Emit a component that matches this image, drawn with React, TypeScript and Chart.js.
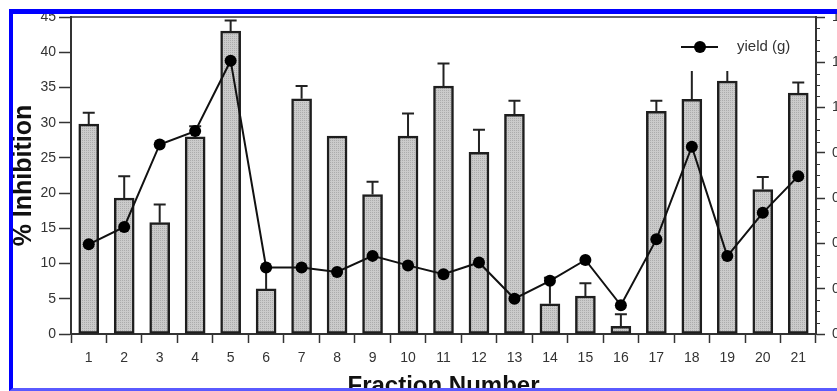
import { useEffect, useRef } from 'react';
import { Chart, registerables } from 'chart.js';

Chart.register(...registerables);

const fractions = ['1', '2', '3', '4', '5', '6', '7', '8', '9', '10', '11', '12', '13', '14', '15', '16', '17', '18', '19', '20', '21'];
const inhibition = [29.8, 19.3, 15.8, 28.0, 43.0, 6.4, 33.4, 28.1, 19.8, 28.1, 35.2, 25.8, 31.2, 4.3, 5.4, 1.1, 31.6, 33.3, 35.9, 20.5, 34.2];
const inhibitionError = [1.6, 3.1, 2.6, 1.5, 1.5, 3.0, 1.8, 0, 1.8, 3.2, 3.2, 3.2, 1.9, 3.7, 1.8, 1.7, 1.5, 4.4, 1.8, 1.8, 1.5];
const yieldGrams = [0.396, 0.473, 0.837, 0.896, 1.207, 0.294, 0.294, 0.274, 0.345, 0.303, 0.264, 0.316, 0.156, 0.235, 0.327, 0.127, 0.418, 0.827, 0.344, 0.535, 0.697];

const FONT = "'Liberation Sans', Arial, Helvetica, sans-serif";
const TEXT = '#333';
const AXIS = '#333';

const errorBars = {
  id: 'errorBars',
  afterDatasetDraw(chart: any, args: any) {
    if (args.index !== 0) return;
    const { ctx } = chart;
    const y = chart.scales.y;
    ctx.save();
    ctx.strokeStyle = '#222';
    ctx.lineWidth = 2;
    args.meta.data.forEach((bar: any, i: number) => {
      const e = inhibitionError[i];
      if (!e) return;
      const top = y.getPixelForValue(inhibition[i] + e);
      ctx.beginPath();
      ctx.moveTo(bar.x, bar.y);
      ctx.lineTo(bar.x, top);
      ctx.moveTo(bar.x - 6, top);
      ctx.lineTo(bar.x + 6, top);
      ctx.stroke();
    });
    ctx.restore();
  },
};

const boxLegend = {
  id: 'boxLegend',
  afterDatasetsDraw(chart: any) {
    const { ctx, chartArea: a } = chart;
    const ds = chart.data.datasets[1];
    ctx.save();
    ctx.fillStyle = '#fff';
    ctx.fillRect(a.right - 146, a.top + 1, 136, 53);
    const ly = a.top + 30;
    ctx.strokeStyle = '#111';
    ctx.lineWidth = 2;
    ctx.beginPath();
    ctx.moveTo(a.right - 135, ly);
    ctx.lineTo(a.right - 98, ly);
    ctx.stroke();
    ctx.fillStyle = '#000';
    ctx.beginPath();
    ctx.arc(a.right - 116, ly, 6, 0, Math.PI * 2);
    ctx.fill();
    ctx.fillStyle = TEXT;
    ctx.font = `15px ${FONT}`;
    ctx.textBaseline = 'middle';
    ctx.textAlign = 'left';
    ctx.fillText(ds.label, a.right - 79, ly);
    ctx.restore();
  },
};

const frameAndMinor = {
  id: 'frameAndMinor',
  afterDraw(chart: any) {
    const { ctx, chartArea: a } = chart;
    const y1 = chart.scales.y1;
    ctx.save();
    ctx.strokeStyle = AXIS;
    ctx.lineWidth = 1.5;
    ctx.beginPath();
    ctx.moveTo(a.left, a.top);
    ctx.lineTo(a.right, a.top);
    ctx.stroke();
    ctx.lineWidth = 1;
    const step = 0.05;
    const n = Math.round((y1.max - y1.min) / step);
    ctx.beginPath();
    for (let k = 1; k < n; k++) {
      if (k % 4 === 0) continue;
      const py = Math.round(y1.getPixelForValue(y1.min + k * step)) + 0.5;
      ctx.moveTo(a.right, py);
      ctx.lineTo(a.right + 4, py);
    }
    ctx.stroke();
    ctx.restore();
  },
};

export default function App() {
  const ref = useRef<HTMLCanvasElement>(null);

  useEffect(() => {
    if (!ref.current) return;
    const pc = document.createElement('canvas');
    pc.width = 2;
    pc.height = 2;
    const pctx = pc.getContext('2d')!;
    pctx.fillStyle = '#cbcbcb';
    pctx.fillRect(0, 0, 2, 2);
    pctx.fillStyle = '#acacac';
    pctx.fillRect(0, 0, 1, 1);
    const pattern = pctx.createPattern(pc, 'repeat');

    const chart = new Chart(ref.current, {
      type: 'bar',
      data: {
        labels: fractions,
        datasets: [
          {
            type: 'bar',
            label: '% Inhibition',
            data: inhibition,
            yAxisID: 'y',
            backgroundColor: pattern as any,
            borderColor: '#1e1e1e',
            borderWidth: 2.5,
            borderSkipped: false,
            barThickness: 20,
            order: 1,
          },
          {
            type: 'line',
            label: 'yield (g)',
            data: yieldGrams,
            yAxisID: 'y1',
            borderColor: '#111',
            borderWidth: 2,
            pointRadius: 6,
            pointBackgroundColor: '#000',
            pointBorderWidth: 0,
            tension: 0,
            order: 0,
          } as any,
        ],
      },
      options: {
        responsive: false,
        animation: false,
        devicePixelRatio: 1,
        layout: { padding: { top: 17, left: 0, right: 0, bottom: 0 } },
        plugins: { legend: { display: false }, tooltip: { enabled: false } },
        scales: {
          x: {
            type: 'category',
            offset: true,
            grid: { drawOnChartArea: false, offset: true, tickLength: 9, color: AXIS, tickWidth: 1.5 },
            border: { color: AXIS, width: 2 },
            ticks: { color: TEXT, padding: 7, font: { family: FONT, size: 14 }, maxRotation: 0, autoSkip: false },
            title: { display: true, text: 'Fraction Number', color: '#111', font: { family: FONT, size: 24, weight: 'bold' }, padding: { top: 4, bottom: 19 } },
            afterFit(scale: any) { scale.height = 86; },
          },
          y: {
            position: 'left',
            min: 0,
            max: 45,
            ticks: { stepSize: 5, color: TEXT, padding: 3, font: { family: FONT, size: 14 } },
            grid: { drawOnChartArea: false, tickLength: 12, color: AXIS, tickWidth: 1.5 },
            border: { color: AXIS, width: 2 },
            title: { display: true, text: '% Inhibition', color: '#111', font: { family: FONT, size: 25, weight: 'bold' }, padding: { top: 9, bottom: 0 } },
            afterFit(scale: any) { scale.width = 71; },
          },
          y1: {
            position: 'right',
            min: 0,
            max: 1.4,
            ticks: { stepSize: 0.2, color: TEXT, padding: 7, font: { family: FONT, size: 14 }, callback: (v: any) => Number(v).toFixed(1) },
            grid: { drawOnChartArea: false, tickLength: 9, color: AXIS, tickWidth: 1.5 },
            border: { color: AXIS, width: 2 },
            afterFit(scale: any) { scale.width = 64; },
          },
        },
      } as any,
      plugins: [errorBars, boxLegend, frameAndMinor],
    });
    return () => chart.destroy();
  }, []);

  return (
    <div style={{ position: 'fixed', left: 0, top: 0, width: 837, height: 391, overflow: 'hidden', background: '#fff' }}>
      <canvas ref={ref} width={880} height={420} style={{ position: 'absolute', left: 0, top: 0, display: 'block' }} />
      <div
        style={{
          position: 'absolute',
          left: 9,
          top: 9,
          width: 900,
          height: 382,
          boxSizing: 'border-box',
          borderTop: '5px solid #0000ff',
          borderLeft: '4px solid #0000ff',
          borderBottom: '3px solid #5a5aff',
          pointerEvents: 'none',
        }}
      />
    </div>
  );
}
